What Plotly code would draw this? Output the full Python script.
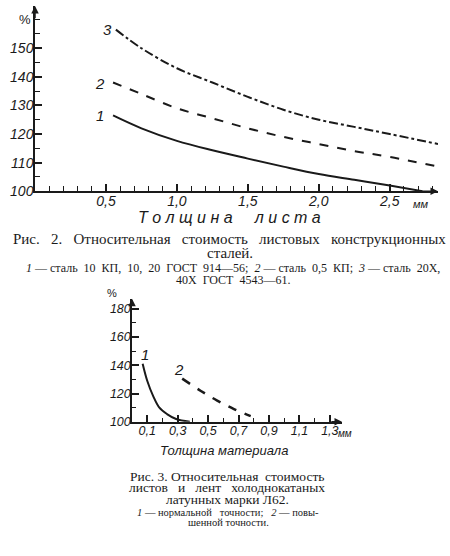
import plotly.graph_objects as go

# Рис. 2 - листовые конструкционные стали
thick_1 = [0.55, 0.75, 1.0, 1.25, 1.5, 1.75, 2.0, 2.25, 2.5, 2.73]
cost_1 = [126.5, 122.0, 117.6, 114.3, 111.4, 108.6, 106.0, 104.0, 102.0, 100.0]
thick_2 = [0.55, 0.75, 1.0, 1.25, 1.5, 1.75, 2.0, 2.25, 2.5, 2.84]
cost_2 = [138.0, 134.0, 129.0, 125.5, 122.0, 119.0, 116.5, 114.0, 112.0, 108.6]
thick_3 = [0.57, 0.75, 1.0, 1.25, 1.5, 1.75, 2.0, 2.25, 2.5, 2.84]
cost_3 = [156.5, 150.0, 143.0, 138.0, 133.0, 128.5, 125.0, 122.5, 120.0, 116.5]
x_ticks_a = [0.5, 1.0, 1.5, 2.0, 2.5]
x_labels_a = ["0,5", "1,0", "1,5", "2,0", "2,5"]
y_ticks_a = [100, 110, 120, 130, 140, 150]

# Рис. 3 - латунные листы и ленты Л62
thick_b1 = [0.07, 0.1, 0.14, 0.18, 0.23, 0.29, 0.38]
cost_b1 = [141.0, 129.0, 118.0, 110.0, 105.5, 102.0, 100.0]
thick_b2 = [0.33, 0.45, 0.56, 0.67, 0.78]
cost_b2 = [130.5, 122.0, 115.0, 109.0, 104.0]
x_ticks_b = [0.1, 0.3, 0.5, 0.7, 0.9, 1.1, 1.3]
x_labels_b = ["0,1", "0,3", "0,5", "0,7", "0,9", "1,1", "1,3"]
y_ticks_b = [100, 120, 140, 160, 180]

W, H = 450, 556
ink = "#1a1a1a"
tickfont = dict(family="Liberation Sans", size=14, color=ink, style="italic")
tickfont2 = dict(family="Liberation Sans", size=12.5, color=ink, style="italic")
serif = "Liberation Serif"


def py(p):
    # pixel row -> paper y
    return 1 - p / H


fig = go.Figure()

fig.add_trace(go.Scatter(x=thick_1, y=cost_1, mode="lines", line=dict(color=ink, width=2, shape="spline")))
fig.add_trace(go.Scatter(x=thick_2, y=cost_2, mode="lines", line=dict(color=ink, width=2, shape="spline", dash="dash")))
fig.add_trace(go.Scatter(x=thick_3, y=cost_3, mode="lines", line=dict(color=ink, width=2, shape="spline", dash="dashdot")))
fig.add_trace(go.Scatter(x=thick_b1, y=cost_b1, mode="lines", xaxis="x2", yaxis="y2",
                         line=dict(color=ink, width=2, shape="spline")))
fig.add_trace(go.Scatter(x=thick_b2, y=cost_b2, mode="lines", xaxis="x2", yaxis="y2",
                         line=dict(color=ink, width=2.5, shape="spline", dash="dash")))

axis_common = dict(showgrid=False, zeroline=False, showline=True, linecolor=ink, linewidth=1.5,
                   ticks="inside", tickcolor=ink, tickwidth=1.6, ticklen=7, layer="above traces")


def minor(step, start, ln):
    return dict(tickmode="linear", dtick=step, tick0=start, ticks="inside", ticklen=ln,
                tickcolor=ink, tickwidth=1.4, showgrid=False)


fig.update_layout(
    width=W, height=H,
    margin=dict(l=0, r=0, t=0, b=0),
    paper_bgcolor="white", plot_bgcolor="white",
    showlegend=False,
    xaxis=dict(domain=[35 / W, 438 / W], range=[0, 2.84], anchor="y",
               tickmode="array", tickvals=x_ticks_a, ticktext=x_labels_a, tickfont=tickfont,
               ticklabelstandoff=-4, minor=minor(0.1, 0, 5), **axis_common),
    yaxis=dict(domain=[py(194), py(6)], range=[100, 164.8], anchor="x",
               tickmode="array", tickvals=y_ticks_a, tickfont=tickfont,
               ticklabelstandoff=-3, minor=minor(5, 100, 5), **axis_common),
    xaxis2=dict(domain=[132 / W, 342 / W], range=[0, 1.38], anchor="y2",
                tickmode="array", tickvals=x_ticks_b, ticktext=x_labels_b, tickfont=tickfont2,
                ticklabelstandoff=-4, minor=minor(0.1, 0, 4), **axis_common),
    yaxis2=dict(domain=[py(428), py(303)], range=[100, 187], anchor="x2",
                tickmode="array", tickvals=y_ticks_b, tickfont=tickfont2,
                ticklabelstandoff=-3, minor=minor(10, 100, 4), **axis_common),
)

notes = []
# axis arrows
for xr, yr, x, y, ax, ay in [("x", "y", 2.84, 100, 2.7, 100), ("x", "y", 0, 164.8, 0, 160),
                             ("x2", "y2", 1.38, 100, 1.3, 100), ("x2", "y2", 0, 187, 0, 182)]:
    notes.append(dict(xref=xr, yref=yr, axref=xr, ayref=yr, x=x, y=y, ax=ax, ay=ay, text="",
                      showarrow=True, arrowhead=2, arrowsize=1, arrowwidth=1.5, arrowcolor=ink))

# curve numbers
for xr, yr, x, y, t in [("x", "y", 0.51, 156.5, "3"), ("x", "y", 0.46, 137.5, "2"), ("x", "y", 0.46, 126.5, "1"),
                        ("x2", "y2", 0.085, 147.5, "1"), ("x2", "y2", 0.31, 137, "2")]:
    notes.append(dict(xref=xr, yref=yr, x=x, y=y, text=t, showarrow=False,
                      font=dict(family="Liberation Sans", size=15, color=ink, style="italic")))

# units and axis names
notes += [
    dict(xref="paper", yref="paper", x=25 / W, y=py(20), text="%", showarrow=False,
         font=dict(family="Liberation Sans", size=13, color=ink)),
    dict(xref="x", yref="y", x=2.72, y=100, yshift=-13, text="мм", showarrow=False,
         font=dict(family="Liberation Sans", size=11, color=ink, style="italic")),
    dict(xref="paper", yref="paper", x=230 / W, y=py(221), text="Т о л щ и н а     л и с т а", showarrow=False,
         font=dict(family="Liberation Sans", size=16, color=ink, style="italic")),
    dict(xref="paper", yref="paper", x=112 / W, y=py(297), text="%", showarrow=False,
         font=dict(family="Liberation Sans", size=11, color=ink)),
    dict(xref="x2", yref="y2", x=1.34, y=100, xanchor="left", yshift=-12, text="мм", showarrow=False,
         font=dict(family="Liberation Sans", size=10, color=ink, style="italic")),
    dict(xref="paper", yref="paper", x=224 / W, y=py(457), text="Толщина материала", showarrow=False,
         font=dict(family="Liberation Sans", size=13, color=ink, style="italic")),
]

# captions
cap_lines = [
    (230, 242, "Рис.   2.   Относительная   стоимость   листовых   конструкционных", 15),
    (230, 257, "сталей.", 15),
    (233, 272, "<i>1</i> — сталь  10  КП,  10,  20  ГОСТ  914—56;  <i>2</i> — сталь  0,5  КП;  <i>3</i> — сталь  20Х,", 12),
    (233, 284, "40Х  ГОСТ  4543—61.", 12),
    (227, 483, "Рис. 3. Относительная  стоимость", 13.5),
    (227, 495, "листов   и   лент   холоднокатаных", 13.5),
    (227, 507, "латунных марки Л62.", 13.5),
    (228, 520, "<i>1</i> — нормальной   точности;   <i>2</i> — повы-", 10.5),
    (228, 530, "шенной точности.", 10.5),
]
for cx, cy, t, s in cap_lines:
    notes.append(dict(xref="paper", yref="paper", x=cx / W, y=py(cy), text=t, showarrow=False,
                      font=dict(family=serif, size=s, color=ink)))

for n in notes:
    if not n.get("showarrow"):
        n.setdefault("xanchor", "center")
        n.setdefault("yanchor", "middle")

fig.update_layout(annotations=notes)
fig.write_html("out.html", config={"displayModeBar": False},
               post_script="document.body.style.margin='0';")
